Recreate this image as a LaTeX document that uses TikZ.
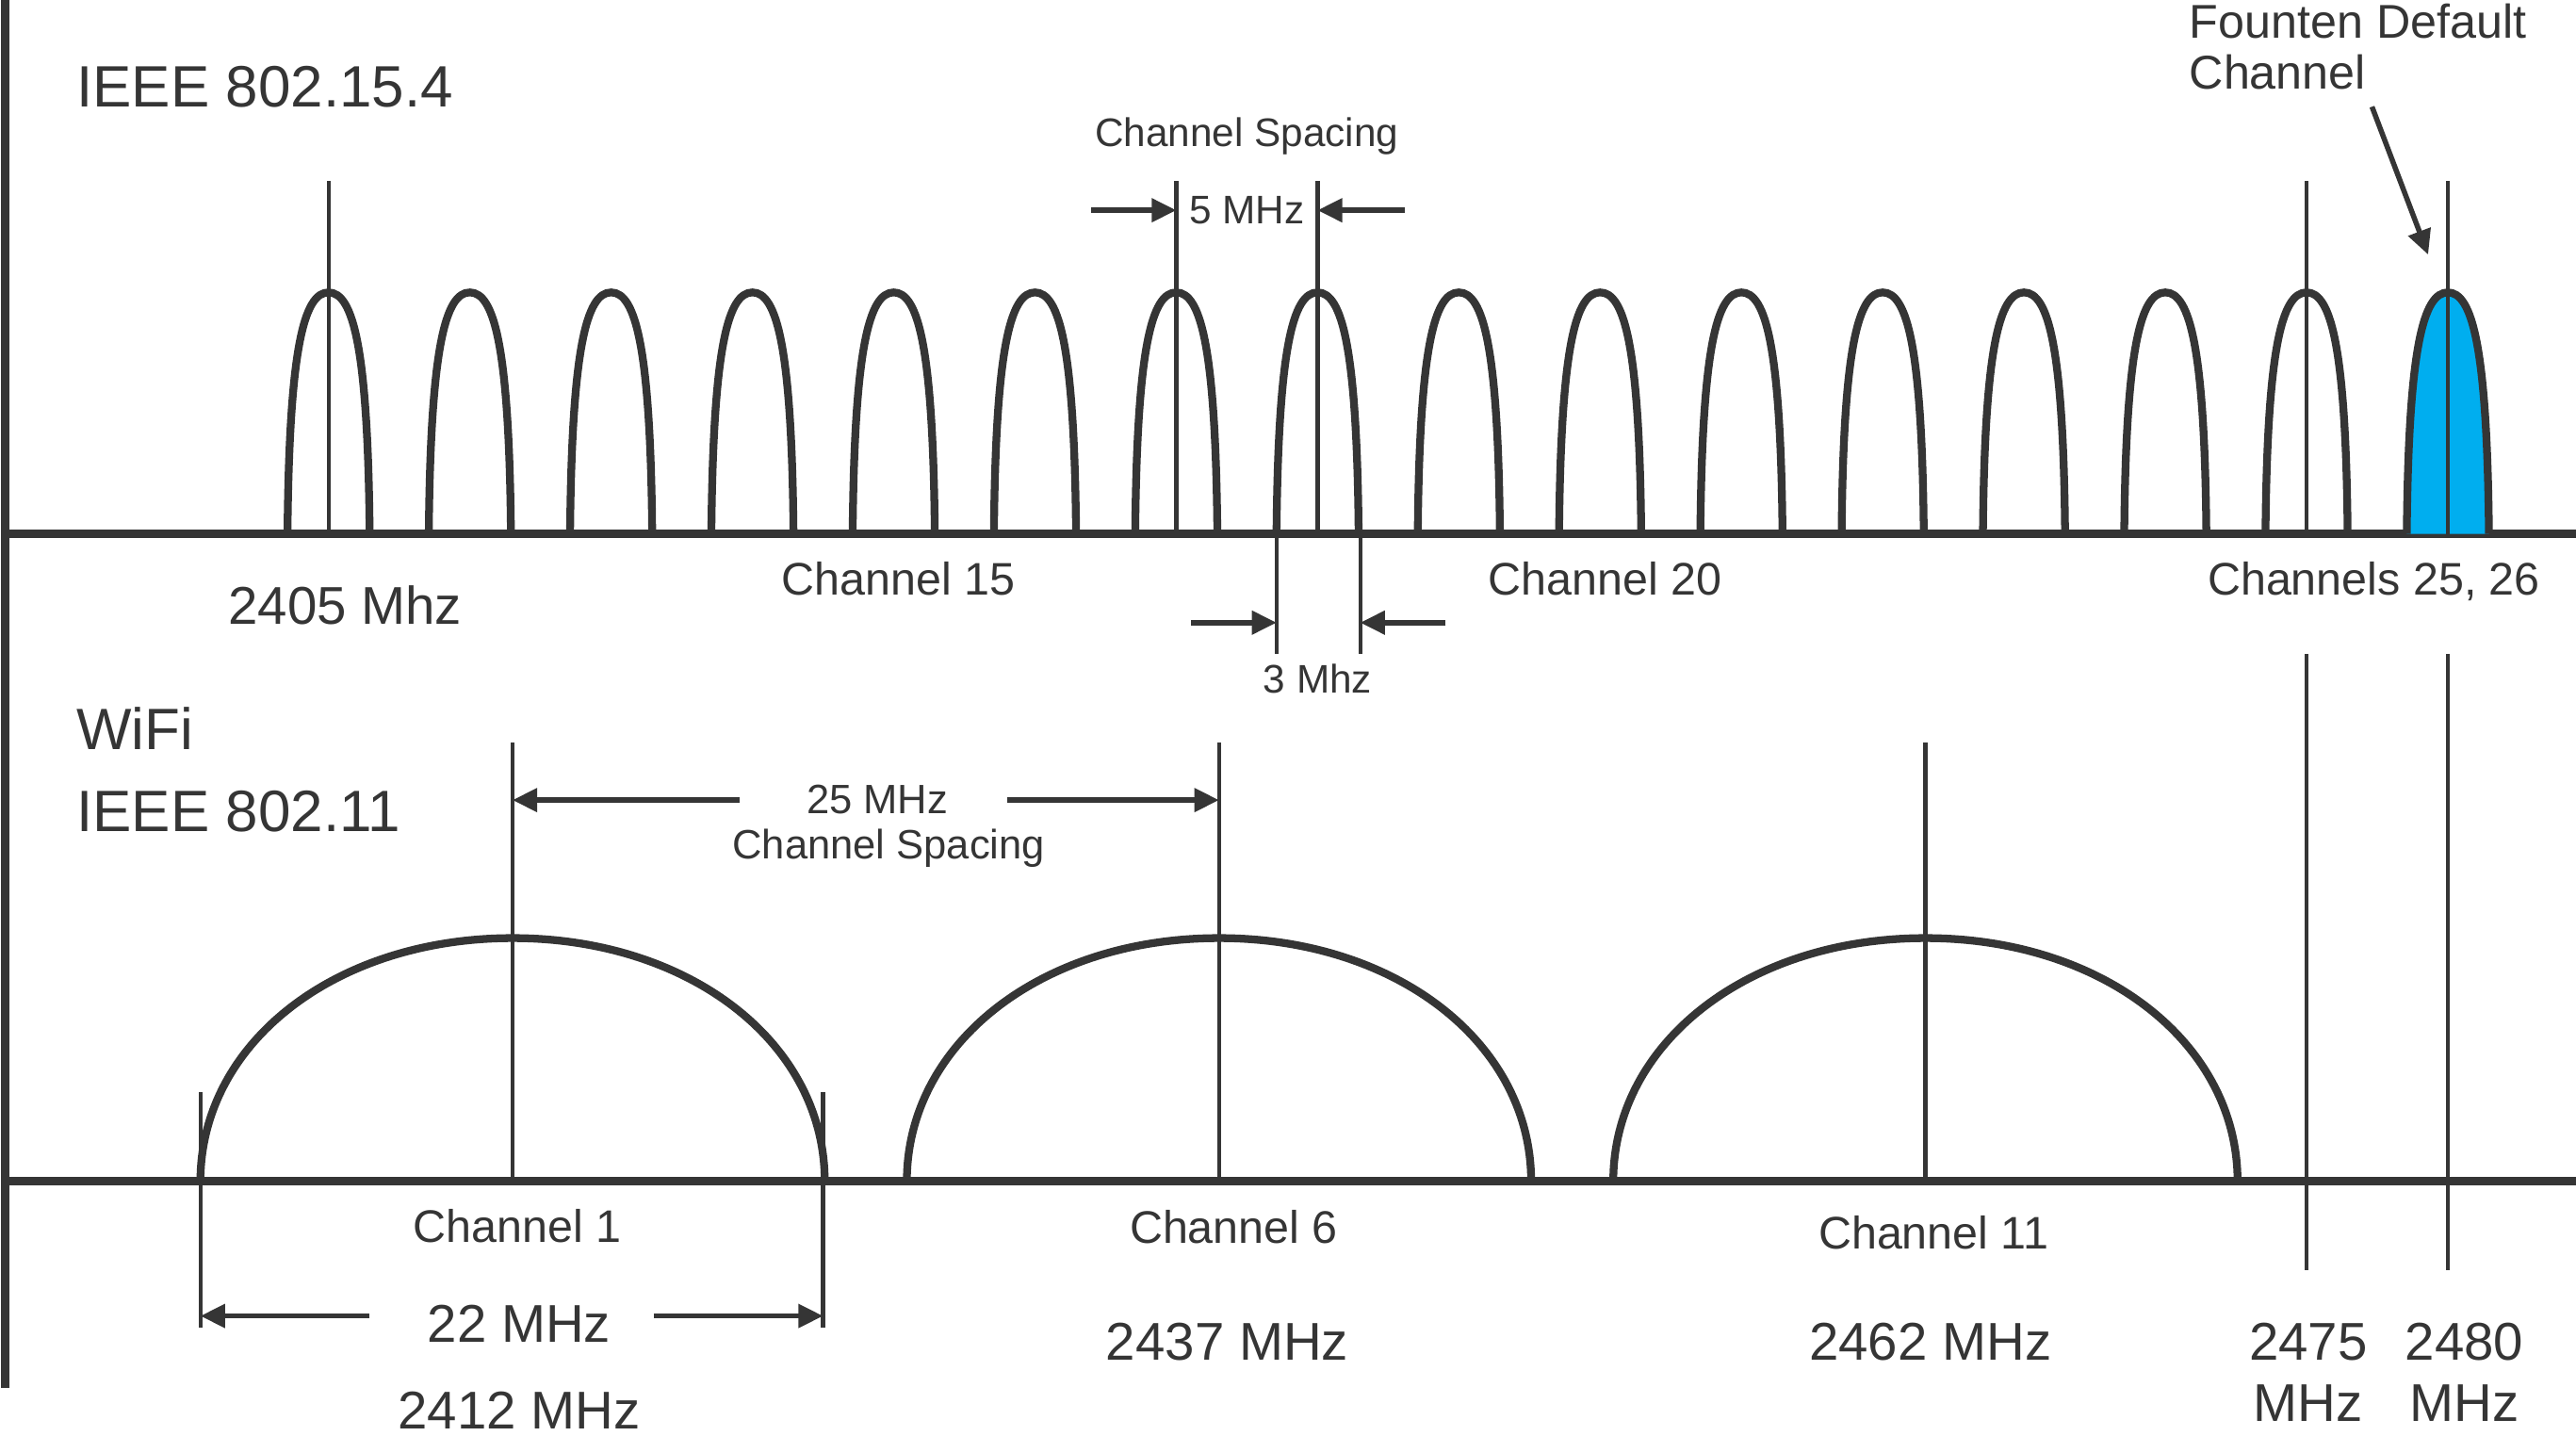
\documentclass[tikz,border=0pt]{standalone}
\usepackage{fontspec}
\setmainfont{Liberation Sans}
\usepackage{xcolor}
\usetikzlibrary{arrows.meta}
\definecolor{c_ink}{HTML}{353535}
\definecolor{c_default}{HTML}{00AEEF}
\tikzset{lbl/.style={anchor=base, inner sep=0pt, text=c_ink},
lbl-big/.style={lbl, font=\fontsize{10.1pt}{12pt}\selectfont},
lbl-mid/.style={lbl, font=\fontsize{9.2pt}{11pt}\selectfont},
lbl-ch/.style={lbl, font=\fontsize{7.9pt}{9pt}\selectfont},
lbl-small/.style={lbl, font=\fontsize{6.9pt}{8pt}\selectfont},
axis/.style={line width=1.4pt, draw=c_ink},
bump/.style={line width=1.35pt, draw=c_ink},
marker/.style={line width=0.7pt, draw=c_ink},
arrow/.style={line width=0.9pt, draw=c_ink, -{Triangle[length=1.5mm, width=1.4mm]}}}

\begin{document}
\begin{tikzpicture}[x=0.01cm, y=-0.01cm]
\useasboundingbox (0,0) rectangle (1568,874);
% axes
\draw[axis] (3,0) -- (3,845);
\draw[axis] (3,325) -- (1568,325);
\draw[axis] (3,719) -- (1568,719);
% IEEE 802.15.4 channels
\foreach \c in {200,286,...,1404}
  \draw[bump] ({\c-25},325) .. controls ({\c-24},212) and ({\c-15},178) .. (\c,178) .. controls ({\c+15},178) and ({\c+24},212) .. ({\c+25},325);
\filldraw[bump, fill=c_default] (1465,325) .. controls (1466,212) and (1475,178) .. (1490,178) .. controls (1505,178) and (1514,212) .. (1515,325);
\foreach \c in {200,716,802,1404,1490}
  \draw[marker] (\c,110) -- (\c,325);
\draw[marker] (777,325) -- (777,398);
\draw[marker] (828,325) -- (828,398);
\draw[marker] (1404,398) -- (1404,773);
\draw[marker] (1490,398) -- (1490,773);
% WiFi channels
\foreach \c in {312,742,1172}
  \draw[bump] ({\c-190},719) .. controls ({\c-190},635) and ({\c-108},571) .. (\c,571) .. controls ({\c+108},571) and ({\c+190},635) .. ({\c+190},719);
\foreach \c in {312,742,1172}
  \draw[marker] (\c,452) -- (\c,719);
\draw[marker] (122,665) -- (122,808);
\draw[marker] (501,665) -- (501,808);

% labels
\node (n154) [lbl-big, anchor=base west] at (46,65) {IEEE 802.15.4};
\node (nsp1) [lbl-small] at (759,89) {Channel Spacing};
\node (n5) [lbl-small] at (759,136) {5 MHz};
\node (nfd1) [lbl-ch, font=\fontsize{8.2pt}{9pt}\selectfont, anchor=base west] at (1332,23) {Founten Default};
\node (nfd2) [lbl-ch, font=\fontsize{8.2pt}{9pt}\selectfont, anchor=base west] at (1332,54) {Channel};
\node (n2405) [lbl-mid] at (210,380) {2405 Mhz};
\node (nch15) [lbl-ch] at (547,362) {Channel 15};
\node (nch20) [lbl-ch] at (977,362) {Channel 20};
\node (nch25) [lbl-ch] at (1445,362) {Channels 25, 26};
\node (n3) [lbl-small] at (802,422) {3 Mhz};
\node (nwifi) [lbl-big, anchor=base west] at (46,456) {WiFi};
\node (n8211) [lbl-big, anchor=base west] at (46,506) {IEEE 802.11};
\node (n25) [lbl-small, font=\fontsize{7.1pt}{8pt}\selectfont] at (534,495) {25 MHz};
\node (nsp2) [lbl-small, font=\fontsize{7.1pt}{8pt}\selectfont] at (541,523) {Channel Spacing};
\node (nch1) [lbl-ch] at (315,756) {Channel 1};
\node (nch6) [lbl-ch] at (751,757) {Channel 6};
\node (nch11) [lbl-ch] at (1177,760) {Channel 11};
\node (n22) [lbl-mid] at (316,817) {22 MHz};
\node (n2412) [lbl-mid] at (316,870) {2412 MHz};
\node (n2437) [lbl-mid] at (747,828) {2437 MHz};
\node (n2462) [lbl-mid] at (1175,828) {2462 MHz};
\node (n2475) [lbl-mid] at (1405,828) {2475};
\node (n2475u) [lbl-mid] at (1405,865) {MHz};
\node (n2480) [lbl-mid] at (1500,828) {2480};
\node (n2480u) [lbl-mid] at (1500,865) {MHz};

% dimension arrows
\coordinate (s5l) at (664,128);
\coordinate (s5r) at (855,128);
\coordinate (s3l) at (725,379);
\coordinate (s3r) at (880,379);
\coordinate (s25l) at (450,487);
\coordinate (s25r) at (613,487);
\coordinate (s22l) at (225,801);
\coordinate (s22r) at (398,801);
\coordinate (fdtip) at (1478,155);
\draw[arrow] (s5l) -- (716,128);
\draw[arrow] (s5r) -- (802,128);
\draw[arrow] (s3l) -- (777,379);
\draw[arrow] (s3r) -- (828,379);
\draw[arrow] (s25l) -- (312,487);
\draw[arrow] (s25r) -- (742,487);
\draw[arrow] (s22l) -- (122,801);
\draw[arrow] (s22r) -- (501,801);
\draw[arrow] ([shift={(3,10)}]nfd2.south east) -- (fdtip);
\end{tikzpicture}
\end{document}
